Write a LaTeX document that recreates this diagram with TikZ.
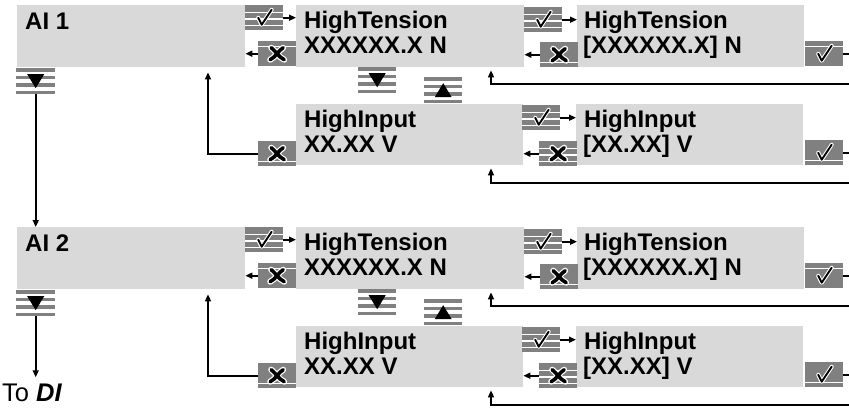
\documentclass[tikz,border=0pt]{standalone}
\usepackage{fontspec}
\setmainfont{Liberation Sans}
\usetikzlibrary{arrows.meta,calc}
\definecolor{boxgray}{RGB}{217,217,217}
\definecolor{btngray}{RGB}{128,128,128}
\newcommand\ppc{path picture bounding box}
\newcommand\wline[2]{\draw[white,line width=#2] ($(\ppc.north west)!#1!(\ppc.south west)$) -- ($(\ppc.north east)!#1!(\ppc.south east)$);}
\newcommand\stripeS{\wline{0.3}{1.3pt}\wline{0.55}{1.3pt}\wline{0.8}{1.3pt}}
\newcommand\stripeT{\wline{0.2}{1.3pt}}
\newcommand\stripeB{\wline{0.8}{1.3pt}}
\newcommand\stripeW{\wline{0.21}{4pt}\wline{0.5}{4pt}\wline{0.79}{4pt}}
\newcommand\chkpath{($(\ppc.center)+(-6pt,0pt)$) -- ++(3.5pt,-7pt) -- ++(10pt,15pt)}
\newcommand\iconchk{%
  \draw[white,line width=4pt,line cap=round,line join=round] \chkpath;
  \draw[black,line width=1.9pt,line cap=round,line join=round] \chkpath;}
\newcommand\xpath{($(\ppc.center)+(-6pt,6pt)$) .. controls ($(\ppc.center)+(-1pt,2pt)$) and ($(\ppc.center)+(1pt,-3pt)$) .. ($(\ppc.center)+(7pt,-6pt)$)
  ($(\ppc.center)+(6pt,6pt)$) .. controls ($(\ppc.center)+(1pt,3pt)$) and ($(\ppc.center)+(-1pt,-3pt)$) .. ($(\ppc.center)+(-7pt,-6pt)$)}
\newcommand\iconx{%
  \draw[white,line width=6pt,line cap=round] \xpath;
  \draw[black,line width=3.6pt,line cap=round] \xpath;}
\newcommand\icondn{\fill[black] ($(\ppc.center)+(-8.5pt,7pt)$) -- ($(\ppc.center)+(8.5pt,7pt)$) -- ($(\ppc.center)+(0pt,-7pt)$) -- cycle;}
\newcommand\iconup{\fill[black] ($(\ppc.center)+(-8.5pt,-7pt)$) -- ($(\ppc.center)+(8.5pt,-7pt)$) -- ($(\ppc.center)+(0pt,7pt)$) -- cycle;}
\begin{document}
\begin{tikzpicture}[x=1pt,y=-1pt,
  panel/.style={fill=boxgray,anchor=north west,inner sep=0pt,minimum height=62pt},
  lbl/.style={anchor=base west,inner sep=0pt,font=\fontsize{24}{25}\selectfont\bfseries},
  btn/.style={fill=btngray,anchor=north west,inner sep=0pt,minimum width=38pt,minimum height=25pt},
  chkS/.style={btn,path picture={\stripeS\iconchk}},
  chkT/.style={btn,path picture={\stripeT\iconchk}},
  chkB/.style={btn,path picture={\stripeB\iconchk}},
  xS/.style={btn,path picture={\stripeS\iconx}},
  xT/.style={btn,path picture={\stripeT\iconx}},
  xB/.style={btn,path picture={\stripeB\iconx}},
  dnbtn/.style={btn,minimum height=26pt,path picture={\stripeW\icondn}},
  upbtn/.style={btn,minimum height=26pt,path picture={\stripeW\iconup}},
  conn/.style={line width=1.6pt},
  arr/.style={conn,-{Triangle[length=7pt,width=6pt]}}]
\useasboundingbox (0,0) rectangle (849,408);
\foreach \s/\lab/\off in {1/AI 1/0,2/AI 2/222}{
\begin{scope}[shift={(0,\off)}]
  % panels
  \node[panel,minimum width=228pt] (ai\s) at (17,5) {};
  \node[panel,minimum width=228pt] (ht\s) at (296,5) {};
  \node[panel,minimum width=227pt] (hu\s) at (577,5) {};
  \node[panel,minimum width=227pt,minimum height=61pt] (hi\s) at (296,104) {};
  \node[panel,minimum width=227pt,minimum height=61pt] (hj\s) at (576,104) {};
  % labels
  \node[lbl] (ail\s) at (25,29) {\lab};
  \node[lbl] (hta\s) at (304,28) {HighTension};
  \node[lbl] (htb\s) at (304,53) {XXXXXX.X N};
  \node[lbl] (hua\s) at (584,28) {HighTension};
  \node[lbl] (hub\s) at (583,53) {[XXXXXX.X] N};
  \node[lbl] (hia\s) at (304,127) {HighInput};
  \node[lbl] (hib\s) at (304,152) {XX.XX V};
  \node[lbl] (hja\s) at (584,127) {HighInput};
  \node[lbl] (hjb\s) at (583,152) {[XX.XX] V};
  % buttons
  \node[chkS] (c1\s) at (245,5) {};
  \node[xT]   (x1\s) at (258,41) {};
  \node[chkS] (c2\s) at (524,7) {};
  \node[xB]   (x2\s) at (540,42) {};
  \node[chkT] (c3\s) at (805,41) {};
  \node[dnbtn] (dn\s) at (358,67) {};
  \node[upbtn] (up\s) at (424,77) {};
  \node[xB]   (x3\s) at (258,141) {};
  \node[chkS] (c4\s) at (522,105) {};
  \node[xS]   (x4\s) at (539,141) {};
  \node[chkB] (c5\s) at (805,140) {};
  \node[dnbtn,minimum width=39pt] (d\s) at (16,68) {};
  % connectors
  \coordinate (r1\s) at (849,84);
  \coordinate (r2\s) at (849,183);
  \draw[arr] (c1\s.east) -- (c1\s.east -| ht\s.west);
  \draw[arr] (x1\s.west) -- (x1\s.west -| ai\s.east);
  \draw[arr] (c2\s.east) -- (c2\s.east -| hu\s.west);
  \draw[arr] (x2\s.west) -- (x2\s.west -| ht\s.east);
  \draw[conn] (c3\s.east) -- (c3\s.east -| r1\s);
  \draw[arr] (r1\s) -| ($(ht\s.south west)+(195,3)$);
  \draw[arr] (x3\s.west) -| ($(ai\s.south west)+(191,5)$);
  \draw[arr] (c4\s.east) -- (c4\s.east -| hj\s.west);
  \draw[arr] (x4\s.west) -- (x4\s.west -| hi\s.east);
  \draw[conn] (c5\s.east) -- (c5\s.east -| r2\s);
  \draw[arr] (r2\s) -| ($(hi\s.south west)+(195,3)$);
\end{scope}
}
\draw[arr] (d1.south) -- (d1.south |- ai2.north);
\node[anchor=base west,inner sep=0pt,font=\fontsize{25.5}{27}\selectfont] (todi) at (2,401) {To \textbf{\textit{DI}}};
\draw[arr] (d2.south) -- ($(d2.south |- todi.north)+(0,-6)$);
\end{tikzpicture}
\end{document}
